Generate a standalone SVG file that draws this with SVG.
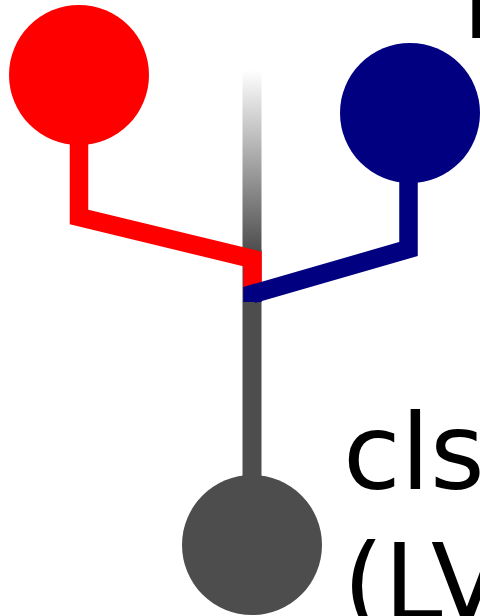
<svg xmlns="http://www.w3.org/2000/svg" width="480" height="616" viewBox="0 0 480 616">
  <style>
    .lbl { font-family: "DejaVu Sans", "Liberation Sans", sans-serif; font-size: 105px; fill: #000; }
    .wire { fill: none; stroke-width: 18.5; stroke-linejoin: miter; stroke-linecap: butt; }
  </style>
  <defs>
    <linearGradient id="fade" gradientUnits="userSpaceOnUse" x1="0" y1="70" x2="0" y2="252">
      <stop offset="0" stop-color="#ffffff"/>
      <stop offset="1" stop-color="#4d4d4d"/>
    </linearGradient>
  </defs>
  <rect width="480" height="616" fill="#fff"/>
  <g id="connectors">
    <rect x="242.5" y="70" width="19" height="182" fill="url(#fade)"/>
    <rect x="242.5" y="250" width="19" height="300" fill="#4d4d4d"/>
    <path class="wire" stroke="#ff0000" d="M79,140 V217 L252.5,259 V292"/>
    <path class="wire" stroke="#000080" d="M408.5,180 V249 L252.5,294 V302"/>
  </g>
  <g id="node-red">
    <circle cx="79" cy="75" r="70" fill="#ff0000"/>
  </g>
  <g id="node-navy">
    <circle cx="410" cy="113" r="70" fill="#000080"/>
  </g>
  <g id="node-gray">
    <circle cx="252" cy="545" r="70" fill="#4d4d4d"/>
  </g>
  <g id="labels">
    <text class="lbl" x="462" y="38">I</text>
    <text class="lbl" x="343" y="489">cls</text>
    <text class="lbl" x="343" y="619">(LV</text>
  </g>
</svg>
